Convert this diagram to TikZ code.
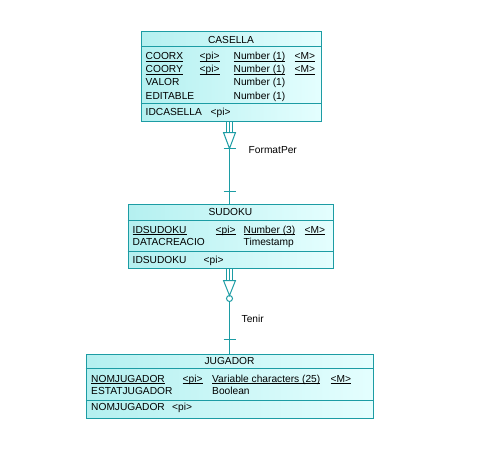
\documentclass[tikz,border=0pt]{standalone}
\usepackage{fontspec}
\setmainfont{Liberation Sans}
\usepackage{xcolor}
\usepackage{tikz}
\definecolor{pdline}{RGB}{28,156,164}
\definecolor{pddark}{RGB}{180,240,240}
\definecolor{pdlight}{RGB}{228,254,254}
\newcommand{\pkline}[1]{\underline{\smash{#1}}}

\begin{document}
\begin{tikzpicture}[x=1pt,y=-1pt,font=\fontsize{10.2}{12}\selectfont,
	ent/.style={draw=pdline,line width=1pt,left color=pddark,right color=pdlight,anchor=north west,inner sep=0pt},
	sep/.style={draw=pdline,line width=1pt},
	link/.style={draw=pdline,line width=1pt},
	txt/.style={anchor=base west,inner sep=0pt},
	hd/.style={anchor=base,inner sep=0pt}]
	\useasboundingbox (0,0) rectangle (488,464);
	\begin{scope}[shift={(0.5,0.5)}]

	% entities
	\node[ent,minimum width=180pt,minimum height=90pt] (casella) at (140,30) {};
	\node[ent,minimum width=205pt,minimum height=64pt] (sudoku) at (127,203) {};
	\node[ent,minimum width=287pt,minimum height=64pt] (jugador) at (85,353) {};
	\foreach \e/\a/\b in {casella/46/103, sudoku/220/251, jugador/368/400} {
		\draw[sep] (\e.west |- 0,\a) -- (\e.east |- 0,\a);
		\draw[sep] (\e.west |- 0,\b) -- (\e.east |- 0,\b);
	}

	% CASELLA
	\node[hd] (cas-h) at (casella.north |- 0,42.5) {CASELLA};
	\node[txt] (cas-n1) at (145,59) {\pkline{COORX}};
	\node[txt] (cas-p1) at (199,59) {\pkline{<pi>}};
	\node[txt] (cas-t1) at (233,59) {\pkline{Number (1)}};
	\node[txt] (cas-m1) at (294,59) {\pkline{<M>}};
	\node[txt] (cas-n2) at (145,72) {\pkline{COORY}};
	\node[txt] (cas-p2) at (199,72) {\pkline{<pi>}};
	\node[txt] (cas-t2) at (233,72) {\pkline{Number (1)}};
	\node[txt] (cas-m2) at (294,72) {\pkline{<M>}};
	\node[txt] (cas-n3) at (145,85) {VALOR};
	\node[txt] (cas-t3) at (233,85) {Number (1)};
	\node[txt] (cas-n4) at (145,98.5) {EDITABLE};
	\node[txt] (cas-t4) at (233,98.5) {Number (1)};
	\node[txt] (cas-k) at (145,115) {IDCASELLA};
	\node[txt] (cas-kp) at (210,115) {<pi>};

	% SUDOKU
	\node[hd] (sud-h) at (sudoku.north |- 0,215) {SUDOKU};
	\node[txt] (sud-n1) at (132,232.5) {\pkline{IDSUDOKU}};
	\node[txt] (sud-p1) at (215,232.5) {\pkline{<pi>}};
	\node[txt] (sud-t1) at (243,232.5) {\pkline{Number (3)}};
	\node[txt] (sud-m1) at (304,232.5) {\pkline{<M>}};
	\node[txt] (sud-n2) at (132,245) {DATACREACIO};
	\node[txt] (sud-t2) at (243,245) {Timestamp};
	\node[txt] (sud-k) at (132,262.5) {IDSUDOKU};
	\node[txt] (sud-kp) at (203,262.5) {<pi>};

	% JUGADOR
	\node[hd] (jug-h) at (jugador.north |- 0,363.5) {JUGADOR};
	\node[txt] (jug-n1) at (90.5,381.5) {\pkline{NOMJUGADOR}};
	\node[txt] (jug-p1) at (182,381.5) {\pkline{<pi>}};
	\node[txt] (jug-t1) at (211.5,381.5) {\pkline{Variable characters (25)}};
	\node[txt] (jug-m1) at (330,381.5) {\pkline{<M>}};
	\node[txt] (jug-n2) at (90.5,393.5) {ESTATJUGADOR};
	\node[txt] (jug-t2) at (211.5,393.5) {Boolean};
	\node[txt] (jug-k) at (90.5,410) {NOMJUGADOR};
	\node[txt] (jug-kp) at (171.5,410) {<pi>};

	% FormatPer
	\coordinate (lx) at (229,0);
	\coordinate (fp) at (casella.south -| lx);
	\foreach \dx in {-3,0,3}
		\draw[link] (fp) ++(\dx,0) -- ++(0,11);
	\draw[link] (fp) ++(-6,11) -- ++(12,0) -- ++(-6,16) -- cycle;
	\draw[link] (fp) ++(-6,27) -- ++(12,0);
	\draw[link] (fp) ++(0,27) -- (sudoku.north -| lx);
	\draw[link] (sudoku.north -| lx) ++(-6,-12) -- ++(12,0);
	\node[txt] (fp-l) at (248,152.5) {FormatPer};

	% Tenir
	\coordinate (tn) at (sudoku.south -| lx);
	\foreach \dx in {-3,0,3}
		\draw[link] (tn) ++(\dx,0) -- ++(0,12);
	\draw[link] (tn) ++(-6,12) -- ++(12,0) -- ++(-6,15) -- cycle;
	\draw[link] (tn) ++(0,30) circle (3);
	\draw[link] (tn) ++(0,33) -- (jugador.north -| lx);
	\draw[link] (jugador.north -| lx) ++(-6,-14) -- ++(12,0);
	\node[txt] (tn-l) at (241,321.5) {Tenir};
	\end{scope}
\end{tikzpicture}
\end{document}
